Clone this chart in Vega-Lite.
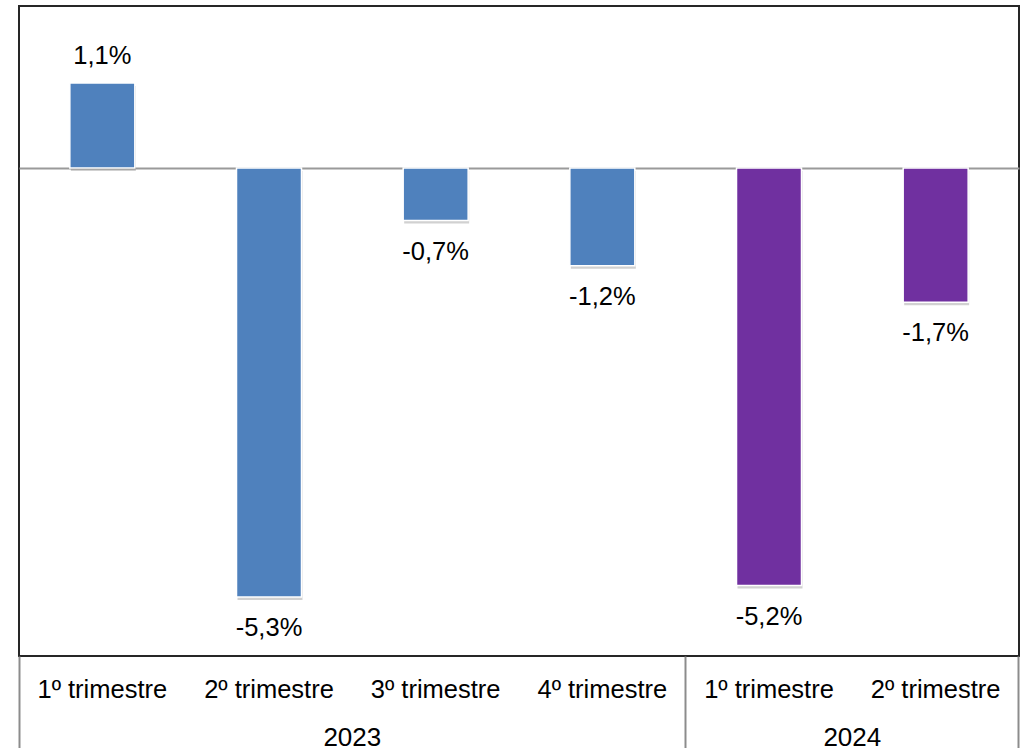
{
  "$schema": "https://vega.github.io/schema/vega-lite/v6.json",
  "width": 1000,
  "height": 650,
  "autosize": {"type": "none"},
  "padding": {"left": 19, "top": 6, "right": 4, "bottom": 92},
  "background": "#ffffff",
  "config": {
    "view": {"stroke": "#262626", "strokeWidth": 2},
    "font": "Liberation Sans"
  },
  "data": {
    "values": [
      {"key": "2023-1", "quarter": "1º trimestre", "year": "2023", "value": 1.05, "label": "1,1%"},
      {"key": "2023-2", "quarter": "2º trimestre", "year": "2023", "value": -5.3, "label": "-5,3%"},
      {"key": "2023-3", "quarter": "3º trimestre", "year": "2023", "value": -0.65, "label": "-0,7%"},
      {"key": "2023-4", "quarter": "4º trimestre", "year": "2023", "value": -1.21, "label": "-1,2%"},
      {"key": "2024-1", "quarter": "1º trimestre", "year": "2024", "value": -5.16, "label": "-5,2%"},
      {"key": "2024-2", "quarter": "2º trimestre", "year": "2024", "value": -1.66, "label": "-1,7%"}
    ]
  },
  "resolve": {"axis": {"x": "independent", "y": "shared"}},
  "layer": [
    {
      "mark": {"type": "bar", "width": {"band": 0.39}, "color": "#000000", "opacity": 0.18, "yOffset": 3, "xOffset": 1},
      "encoding": {
        "x": {
          "field": "key", "type": "nominal", "sort": null,
          "scale": {"paddingInner": 0, "paddingOuter": 0},
          "axis": {
            "orient": "bottom", "title": null, "domain": false, "labels": false,
            "bandPosition": 1, "ticks": true, "tickSize": 92, "tickColor": "#8c8c8c", "tickWidth": 2,
            "tickOpacity": {"condition": {"test": "datum.value === '2024-2'", "value": 1}, "value": 0}
          }
        },
        "y": {
          "field": "value", "type": "quantitative",
          "scale": {"domain": [-6.03, 2.0], "nice": false, "zero": false},
          "axis": {"title": null, "labels": false, "ticks": false, "domain": false, "grid": true, "values": [0], "gridColor": "#9a9a9a", "gridWidth": 2}
        }
      }
    },
    {
      "mark": {"type": "bar", "width": {"band": 0.39}, "stroke": "#ffffff", "strokeWidth": 1.5},
      "encoding": {
        "x": {
          "field": "key", "type": "nominal", "sort": null,
          "axis": {
            "orient": "bottom", "title": null, "domain": false, "ticks": false, "tickSize": 0,
            "labelExpr": "replace(datum.value, /^[0-9]+-([0-9])$/, '$1') + 'º trimestre'",
            "labelFontSize": 25.5, "labelColor": "#000000", "labelPadding": 21, "labelFont": "Liberation Sans",
            "labelAngle": 0
          }
        },
        "y": {"field": "value", "type": "quantitative"},
        "color": {
          "field": "year", "type": "nominal",
          "scale": {"domain": ["2023", "2024"], "range": ["#4f81bd", "#7030a0"]},
          "legend": null
        }
      }
    },
    {
      "transform": [{"filter": "datum.value >= 0"}],
      "mark": {"type": "text", "baseline": "middle", "dy": -27, "fontSize": 25.5, "color": "#000000", "font": "Liberation Sans"},
      "encoding": {
        "x": {
          "field": "key", "type": "nominal", "sort": null,
          "axis": {
            "orient": "bottom", "title": null, "domain": false, "labels": false,
            "bandPosition": 0, "ticks": true, "tickSize": 92, "tickColor": "#8c8c8c", "tickWidth": 2,
            "tickOpacity": {"condition": {"test": "datum.value === '2023-1' || datum.value === '2024-1'", "value": 1}, "value": 0}
          }
        },
        "y": {"field": "value", "type": "quantitative"},
        "text": {"field": "label"}
      }
    },
    {
      "transform": [{"filter": "datum.value < 0"}],
      "mark": {"type": "text", "baseline": "middle", "dy": 31, "fontSize": 25.5, "color": "#000000", "font": "Liberation Sans"},
      "encoding": {
        "x": {
          "field": "key", "type": "nominal", "sort": null,
          "axis": {
            "orient": "bottom", "title": null, "domain": false, "ticks": false, "tickSize": 0,
            "labelExpr": "datum.value === '2023-2' ? '2023' : (datum.value === '2024-1' ? '2024' : '')",
            "labelOffset": 83.3,
            "labelFontSize": 26, "labelColor": "#000000", "labelPadding": 68, "labelFont": "Liberation Sans",
            "labelAngle": 0, "labelOverlap": false
          }
        },
        "y": {"field": "value", "type": "quantitative"},
        "text": {"field": "label"}
      }
    }
  ]
}
